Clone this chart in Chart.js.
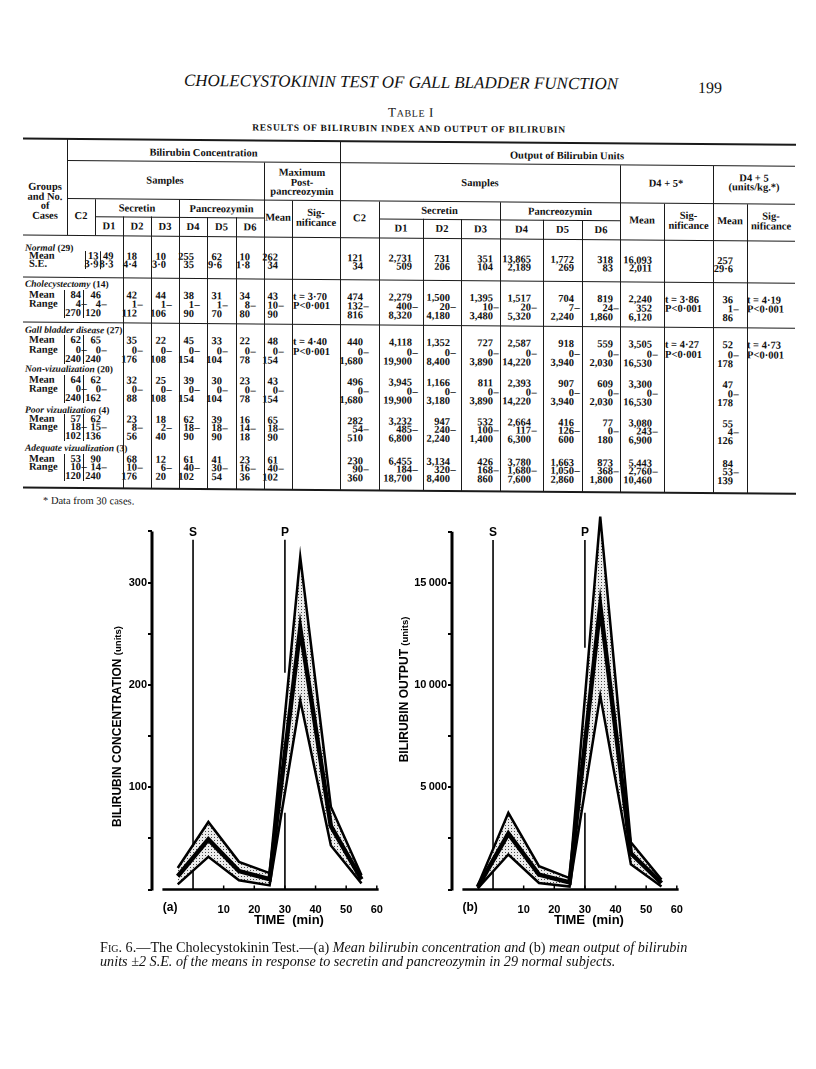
<!DOCTYPE html>
<html>
<head>
<meta charset="utf-8">
<script src="https://cdn.jsdelivr.net/npm/chart.js@4.4.1/dist/chart.umd.min.js"></script>
<style>
  body { margin: 0; background: #fff; }
  #page { position: relative; width: 816px; height: 1069px; overflow: hidden; background: #fff; color: #111; font-family: "Liberation Serif", serif; }
  #sheet { position: absolute; left: 0; top: 0; width: 816px; height: 520px; transform: skewY(0.45deg); transform-origin: 200px 0; }
  .t { position: absolute; white-space: nowrap; height: 12px; line-height: 12px; font-size: 10.5px; font-weight: bold; }
  .ln { position: absolute; background: #1a1a1a; }
  canvas { position: absolute; }
  #cap { position: absolute; left: 100px; top: 940px; font-size: 14.2px; line-height: 14px; font-style: italic; white-space: nowrap; }
  #cap b { font-style: normal; font-weight: normal; }
</style>
</head>
<body>
<div id="page">
  <div id="sheet"></div>
  <canvas id="chartA" width="299" height="470" style="left:90px;top:500px"></canvas>
  <canvas id="chartB" width="299" height="470" style="left:390px;top:500px"></canvas>
  <div id="cap"><b><span style="font-variant:small-caps">Fig.</span> 6.—The Cholecystokinin Test.—(a)</b> Mean bilirubin concentration and <b>(b)</b> mean output of bilirubin<br>units ±2 S.E. of the means in response to secretin and pancreozymin in 29 normal subjects.</div>
</div>
<script>
// ---- Fig. 6 data (normal subjects, n = 29) ----
const sampleTimes = [-5, 5, 15, 25, 35, 45, 55];   // C2, D1..D6 (min)
const concMean  = [13, 49, 18, 10, 255, 62, 10];
const concUpper = [21, 66, 27, 16, 325, 81, 14];    // mean + 2 S.E.
const concLower = [5, 32, 9, 4, 185, 43, 6];        // mean - 2 S.E.
const outMean   = [121, 2731, 731, 351, 13865, 1772, 318];
const outUpper  = [189, 3749, 1143, 559, 18243, 2310, 484];
const outLower  = [53, 1713, 319, 143, 9487, 1234, 152];
const timeTicks = [10, 20, 30, 40, 50, 60];
const concTicks = [0, 50, 100, 150, 200, 250, 300, 350];
const concLabels = [100, 200, 300];
const outTicks  = [0, 2500, 5000, 7500, 10000, 12500, 15000, 17500];
const outLabels = [5000, 10000, 15000];

// ---- Table I data ----
const normalConc = [['13','49','18','10','255','62','10','262'], ['3·9','8·3','4·4','3·0','35','9·6','1·8','34']];
const normalOut  = [['121','2,731','731','351','13,865','1,772','318','16,093','257'], ['34','509','206','104','2,189','269','83','2,011','29·6']];
const cholConc = [['84','46','42','44','38','31','34','43'], ['4–','4–','1–','1–','1–','1–','8–','10–'], ['270','120','112','106','90','70','80','90']];
const cholOut  = [['474','2,279','1,500','1,395','1,517','704','819','2,240','36'], ['132–','400–','20–','10–','20–','7–','24–','352','1–'], ['816','8,320','4,180','3,480','5,320','2,240','1,860','6,120','86']];
const cholSig  = ['t = 3·70', 't = 3·86', 't = 4·19'];
const gallConc = [['62','65','35','22','45','33','22','48'], ['0–','0–','0–','0–','0–','0–','0–','0–'], ['240','240','176','108','154','104','78','154']];
const gallOut  = [['440','4,118','1,352','727','2,587','918','559','3,505','52'], ['0–','0–','0–','0–','0–','0–','0–','0–','0–'], ['1,680','19,900','8,400','3,890','14,220','3,940','2,030','16,530','178']];
const gallSig  = ['t = 4·40', 't = 4·27', 't = 4·73'];
const nonvizConc = [['64','62','32','25','39','30','23','43'], ['0–','0–','0–','0–','0–','0–','0–','0–'], ['240','162','88','108','154','104','78','154']];
const nonvizOut  = [['496','3,945','1,166','811','2,393','907','609','3,300','47'], ['0–','0–','0–','0–','0–','0–','0–','0–','0–'], ['1,680','19,900','3,180','3,890','14,220','3,940','2,030','16,530','178']];
const poorConc = [['57','62','23','18','62','39','16','65'], ['18–','15–','8–','2–','18–','18–','14–','18–'], ['102','136','56','40','90','90','18','90']];
const poorOut  = [['282','3,232','947','532','2,664','416','77','3,080','55'], ['54–','485–','240–','100–','117–','126–','0–','243–','4–'], ['510','6,800','2,240','1,400','6,300','600','180','6,900','126']];
const adeqConc = [['53','90','68','12','61','41','23','61'], ['10–','14–','10–','6–','40–','30–','16–','40–'], ['120','240','176','20','102','54','36','102']];
const adeqOut  = [['230','6,455','3,134','426','3,780','1,663','873','5,443','84'], ['90–','184–','320–','168–','1,680–','1,050–','368–','2,760–','53–'], ['360','18,700','8,400','860','7,600','2,860','1,800','10,460','139']];

// ---- page text and table ----
const sheet = document.getElementById('sheet');
function put(html, x, y, anchor, style) {
  const d = document.createElement('div');
  d.className = 't';
  d.innerHTML = html;
  if (anchor === 'c') { d.style.left = (x - 400) + 'px'; d.style.width = '800px'; d.style.textAlign = 'center'; }
  else if (anchor === 'r') { d.style.left = (x - 200) + 'px'; d.style.width = '200px'; d.style.textAlign = 'right'; }
  else d.style.left = x + 'px';
  d.style.top = (y - 6) + 'px';
  if (style) Object.assign(d.style, style);
  sheet.appendChild(d);
}
function hl(x1, x2, y, w = 1) {
  const d = document.createElement('div');
  d.className = 'ln';
  Object.assign(d.style, { left: x1 + 'px', width: (x2 - x1) + 'px', top: (y - w / 2) + 'px', height: w + 'px' });
  sheet.appendChild(d);
}
function vl(x, y1, y2, w = 1) {
  const d = document.createElement('div');
  d.className = 'ln';
  Object.assign(d.style, { left: (x - w / 2) + 'px', width: w + 'px', top: y1 + 'px', height: (y2 - y1) + 'px' });
  sheet.appendChild(d);
}
function num(s, x, y) {
  if (s.endsWith('–')) {
    put(s.slice(0, -1), x, y, 'r');
    put('–', x + 0.5, y, 'l');
  } else put(s, x, y, 'r');
}

put('CHOLECYSTOKININ TEST OF GALL BLADDER FUNCTION', 401, 81, 'c', { fontSize: '17px', fontStyle: 'italic', fontWeight: 'normal' });
put('199', 710, 84, 'c', { fontSize: '16px', fontWeight: 'normal' });
put('T<span style="font-size:10px">ABLE</span> I', 411, 110.5, 'c', { fontSize: '13px', fontWeight: 'normal', letterSpacing: '0.6px' });
put('RESULTS OF BILIRUBIN INDEX AND OUTPUT OF BILIRUBIN', 409, 127, 'c', { fontSize: '9.5px', letterSpacing: '0.75px' });

// rules
hl(23, 796, 139.5, 2);
hl(67, 795, 161.5);
hl(67, 795, 199.5);
hl(95, 264, 217);
hl(379, 620, 217);
hl(23, 795, 236);
hl(23, 795, 278.5);
hl(23, 795, 323.5);
hl(23, 796, 488.5, 2);
// verticals
vl(67, 139.5, 236);
vl(95, 199.5, 236);
[[123, 217], [151, 217], [179, 199.5], [207, 217], [236, 217], [264, 161.5], [292, 199.5], [340, 139.5],
 [379, 199.5], [423, 217], [461, 217], [500, 199.5], [543, 217], [582, 217], [620, 161.5], [664, 199.5],
 [713, 161.5], [747, 199.5]].forEach(([x, y]) => vl(x, y, 488.5));

// headers
['Groups', 'and No.', 'of', 'Cases'].forEach((s, i) => put(s, 45, 188 + i * 9.6, 'c'));
put('Bilirubin Concentration', 203.5, 153, 'c');
put('Output of Bilirubin Units', 567, 153, 'c');
put('Samples', 165, 181, 'c');
put('Maximum', 302, 172, 'c');
put('Post-', 302, 181.5, 'c');
put('pancreozymin', 302, 191, 'c');
put('Samples', 480, 181, 'c');
put('D4 + 5*', 666, 180, 'c');
put('D4 + 5', 754, 174, 'c');
put('(units/kg.*)', 754, 183, 'c');
put('C2', 81, 217, 'c');
put('C2', 359.5, 217, 'c');
put('Secretin', 137, 208.5, 'c');
put('Pancreozymin', 221.5, 208.5, 'c');
put('Secretin', 439.5, 208.5, 'c');
put('Pancreozymin', 560, 208.5, 'c');
[109, 137, 165, 193, 221.5, 250].forEach((x, i) => put('D' + (i + 1), x, 227, 'c'));
[401, 442, 480.5, 521.5, 562.5, 601].forEach((x, i) => put('D' + (i + 1), x, 227, 'c'));
put('Mean', 278, 217, 'c');
put('Mean', 642, 217, 'c');
put('Mean', 730, 217, 'c');
[316, 688.5, 771].forEach(x => { put('Sig-', x, 212, 'c'); put('nificance', x, 222, 'c'); });

// body
const concX = [81, 101, 137, 166, 194, 222, 250, 278];
const outX = [363, 412, 450, 493, 531, 574, 613, 652, 733];
function block(title, rowNames, conc, out, sig, ty, ys, shortLines, cX) {
  put(title, 25, ty, 'l', { fontStyle: 'italic', fontSize: '9.5px' });
  rowNames.forEach((r, i) => put(r, 29, ys[i], 'l'));
  conc.forEach((row, i) => row.forEach((v, j) => num(v, cX[j], ys[i])));
  out.forEach((row, i) => row.forEach((v, j) => num(v, outX[j], ys[i])));
  if (sig) {
    [293, 665, 747].forEach((x, k) => { put(sig[k], x, ys[0], 'l'); put('P&lt;0·001', x, ys[1], 'l'); });
  }
  shortLines.forEach(x => vl(x, ys[0] - 5, ys[ys.length - 1] + 5));
}
block('Normal <span style="font-style:normal">(29)</span>', ['Mean', 'S.E.'], normalConc, normalOut, null, 249, [257, 265], [85, 100],
  [98.5, 113.5, 137, 166, 194, 222, 250, 278]);
const mr = ['Mean', 'Range'];
block('Cholecystectomy <span style="font-style:normal">(14)</span>', mr, cholConc, cholOut, cholSig, 285, [295.5, 304.5, 313.5], [64, 83.5], concX);
block('Gall bladder disease <span style="font-style:normal">(27)</span>', mr, gallConc, gallOut, gallSig, 331, [341, 350.5, 359.5], [64, 83.5], concX);
block('Non-vizualization <span style="font-style:normal">(20)</span>', mr, nonvizConc, nonvizOut, null, 370, [380.5, 389.5, 399], [64, 83.5], concX);
block('Poor vizualization <span style="font-style:normal">(4)</span>', mr, poorConc, poorOut, null, 410.5, [419.5, 428, 436.5], [64, 83.5], concX);
block('Adequate vizualization <span style="font-style:normal">(3)</span>', mr, adeqConc, adeqOut, null, 448.5, [459.5, 468, 476.5], [64, 83.5], concX);
put('* Data from 30 cases.', 43, 502, 'l', { fontWeight: 'normal' });

// ---- charts ----
const SANS = '"Liberation Sans", Arial, sans-serif';

function dots(canvas) {
  const tile = document.createElement('canvas');
  tile.width = 3; tile.height = 3;
  const t = tile.getContext('2d');
  t.fillStyle = '#ececec'; t.fillRect(0, 0, 3, 3);
  t.fillStyle = '#4a4a4a'; t.fillRect(1, 1, 1, 1);
  return canvas.getContext('2d').createPattern(tile, 'repeat');
}

const extras = {
  id: 'extras',
  beforeDraw(chart, args, o) {
    const { ctx, scales: { x, y } } = chart;
    ctx.save();
    ctx.strokeStyle = '#000';
    ctx.lineWidth = 1.6;
    o.marks.forEach(m => {
      const px = x.getPixelForValue(m.time);
      m.segs.forEach(([a, b]) => {
        ctx.beginPath();
        ctx.moveTo(px, y.getPixelForValue(a));
        ctx.lineTo(px, y.getPixelForValue(b));
        ctx.stroke();
      });
      ctx.fillStyle = '#000';
      ctx.font = 'bold 12px ' + SANS;
      ctx.textAlign = 'center';
      ctx.textBaseline = 'bottom';
      ctx.fillText(m.label, px, y.getPixelForValue(m.segs[0][0]) - 1);
    });
    ctx.restore();
  },
  afterDraw(chart, args, o) {
    const { ctx, chartArea: a, scales: { x, y } } = chart;
    ctx.save();
    ctx.strokeStyle = '#000';
    ctx.fillStyle = '#000';
    // y axis
    ctx.lineWidth = 3;
    ctx.beginPath();
    ctx.moveTo(a.left, y.getPixelForValue(0) + 1);
    ctx.lineTo(a.left, y.getPixelForValue(o.yTop));
    ctx.stroke();
    // x axis with small inward ticks
    ctx.lineWidth = 2.5;
    ctx.beginPath();
    ctx.moveTo(x.getPixelForValue(-10), a.bottom);
    ctx.lineTo(a.right, a.bottom);
    ctx.stroke();
    ctx.lineWidth = 1.5;
    timeTicks.forEach(t => {
      const px = x.getPixelForValue(t);
      ctx.beginPath(); ctx.moveTo(px, a.bottom); ctx.lineTo(px, a.bottom - 4); ctx.stroke();
    });
    // panel letter and x title
    ctx.textBaseline = 'middle';
    ctx.textAlign = 'center';
    ctx.font = 'bold 12px ' + SANS;
    ctx.fillText(o.panel, x.getPixelForValue(-7.5), a.bottom + 18);
    ctx.font = 'bold 13px ' + SANS;
    ctx.fillText('TIME  (min)', x.getPixelForValue(31.3), a.bottom + 30.5);
    // rotated y title in two fonts
    ctx.translate(a.left - o.titleDx, a.bottom - o.titleDy);
    ctx.rotate(-Math.PI / 2);
    ctx.textAlign = 'left';
    const f1 = 'bold 12px ' + SANS, f2 = 'bold 9.5px ' + SANS;
    ctx.font = f1; const w1 = ctx.measureText(o.title + ' ').width;
    ctx.font = f2; const w2 = ctx.measureText('(units)').width;
    const x0 = -(w1 + w2) / 2;
    ctx.font = f1; ctx.fillText(o.title + ' ', x0, 0);
    ctx.font = f2; ctx.fillText('(units)', x0 + w1, 0.5);
    ctx.restore();
  }
};

function buildChart(id, cfg) {
  const canvas = document.getElementById(id);
  const pts = arr => arr.map((v, i) => ({ x: sampleTimes[i], y: v }));
  const line = (arr, w, extra) => Object.assign({
    data: pts(arr), borderColor: '#000', borderWidth: w, pointRadius: 0, tension: 0,
    fill: false, clip: false, borderJoinStyle: 'miter'
  }, extra);
  return new Chart(canvas, {
    type: 'line',
    data: {
      datasets: [
        line(cfg.upper, 2.5, { fill: '+2', backgroundColor: dots(canvas) }),
        line(cfg.mean, 4.5),
        line(cfg.lower, 2.5)
      ]
    },
    options: {
      responsive: false,
      animation: false,
      events: [],
      layout: { padding: { left: 12, right: 10, top: 11, bottom: 30.5 } },
      plugins: {
        legend: { display: false },
        tooltip: { enabled: false },
        filler: { drawTime: 'beforeDatasetsDraw' },
        extras: cfg.extras
      },
      scales: {
        x: {
          type: 'linear', min: -13.4, max: 60.6,
          afterFit: s => { s.height = 50; },
          afterBuildTicks: s => { s.ticks = timeTicks.map(v => ({ value: v })); },
          grid: { display: false },
          border: { display: false },
          ticks: { color: '#000', padding: 6, maxRotation: 0, autoSkip: false, font: { family: SANS, size: 11, weight: 'bold' } }
        },
        y: {
          min: 0, max: cfg.max,
          afterFit: s => { s.width = 50; },
          afterBuildTicks: s => { s.ticks = cfg.ticks.map(v => ({ value: v })); },
          grid: { display: true, drawOnChartArea: false, drawTicks: true, tickLength: 4, lineWidth: 2, color: '#000' },
          border: { display: false },
          ticks: {
            color: '#000', padding: 1, autoSkip: false,
            font: { family: SANS, size: 11, weight: 'bold' },
            callback: v => cfg.labels.includes(v) ? cfg.fmt(v) : ''
          }
        }
      }
    },
    plugins: [extras]
  });
}

buildChart('chartA', {
  upper: concUpper, mean: concMean, lower: concLower,
  max: 370, ticks: concTicks, labels: concLabels, fmt: v => String(v),
  extras: {
    panel: '(a)', title: 'BILIRUBIN CONCENTRATION', titleDx: 34, titleDy: 163, yTop: 350,
    marks: [{ label: 'S', time: 0, segs: [[342, 0]] }, { label: 'P', time: 30, segs: [[342, 212], [75, 0]] }]
  }
});
buildChart('chartB', {
  upper: outUpper, mean: outMean, lower: outLower,
  max: 18520, ticks: outTicks, labels: outLabels, fmt: v => String(v / 1000) + '\u2009000',
  extras: {
    panel: '(b)', title: 'BILIRUBIN OUTPUT', titleDx: 47, titleDy: 200, yTop: 17500,
    marks: [{ label: 'S', time: 0, segs: [[17100, 0]] }, { label: 'P', time: 30, segs: [[17100, 11830], [3750, 0]] }]
  }
});
</script>
</body>
</html>
